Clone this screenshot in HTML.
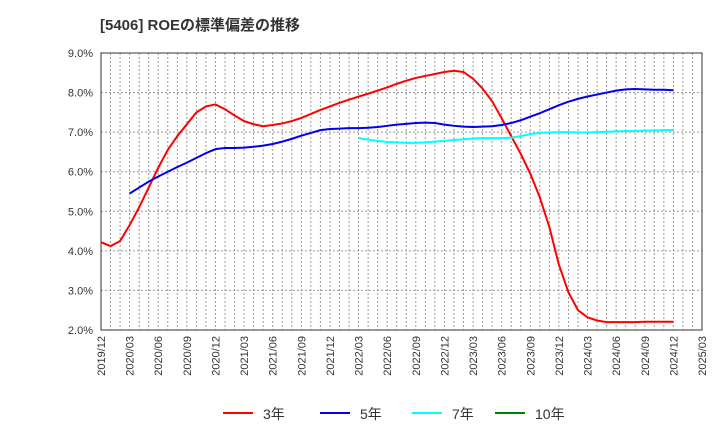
<!DOCTYPE html>
<html><head><meta charset="utf-8"><style>
body{margin:0;background:#fff;font-family:"Liberation Sans","Noto Sans CJK JP",sans-serif}
</style></head><body>
<svg width="720" height="440" xmlns="http://www.w3.org/2000/svg" font-family="Liberation Sans, Noto Sans CJK JP, sans-serif">
<text x="100" y="30" font-size="15" font-weight="bold" fill="#333">[5406]  ROEの標準偏差の推移</text>
<g id="grid"></g>
<g id="axes"></g>
<g id="series"></g>
<g id="legend"></g>
</svg>
<script>
const yTicks=[2,3,4,5,6,7,8,9];
const xTickLabels=["2019/12","2020/03","2020/06","2020/09","2020/12","2021/03","2021/06","2021/09","2021/12","2022/03","2022/06","2022/09","2022/12","2023/03","2023/06","2023/09","2023/12","2024/03","2024/06","2024/09","2024/12","2025/03"];
const s3=[4.22,4.12,4.25,4.65,5.1,5.6,6.1,6.55,6.9,7.2,7.5,7.65,7.7,7.58,7.42,7.28,7.2,7.15,7.18,7.22,7.28,7.36,7.46,7.56,7.65,7.74,7.82,7.9,7.97,8.05,8.13,8.22,8.3,8.37,8.42,8.47,8.52,8.55,8.52,8.35,8.1,7.78,7.35,6.9,6.45,5.95,5.35,4.6,3.65,2.95,2.5,2.32,2.24,2.2,2.2,2.2,2.2,2.21,2.21,2.21,2.21];
const s5Start=3;
const s5=[5.45,5.6,5.75,5.88,6.0,6.12,6.23,6.35,6.47,6.57,6.6,6.6,6.61,6.63,6.66,6.7,6.76,6.83,6.91,6.98,7.05,7.08,7.09,7.1,7.1,7.11,7.13,7.16,7.19,7.21,7.23,7.24,7.23,7.19,7.16,7.14,7.13,7.14,7.15,7.18,7.23,7.3,7.39,7.48,7.58,7.68,7.77,7.84,7.9,7.95,8.0,8.05,8.08,8.09,8.08,8.07,8.07,8.06];
const s7Start=27;
const s7=[6.85,6.81,6.78,6.75,6.74,6.73,6.73,6.74,6.76,6.78,6.8,6.82,6.84,6.85,6.85,6.85,6.86,6.9,6.95,6.98,6.99,7.0,7.0,6.99,6.99,7.0,7.01,7.02,7.03,7.03,7.04,7.04,7.05,7.05];
const s10=[];
const NS="http://www.w3.org/2000/svg";
const L=101,R=702,T=53,B=330,months=63;
const x=i=>L+(R-L)*i/months;
const y=v=>B-(B-T)*(v-2)/7;
function mk(tag,attrs,parent){const e=document.createElementNS(NS,tag);for(const k in attrs)e.setAttribute(k,attrs[k]);parent.appendChild(e);return e;}
const grid=document.getElementById('grid'),axes=document.getElementById('axes'),ser=document.getElementById('series'),leg=document.getElementById('legend');
for(let m=1;m<months;m++){const g=mk('line',{x1:x(m),x2:x(m),y1:T,y2:B,stroke:'#999','stroke-dasharray':'2,2','stroke-width':1},grid);

}
yTicks.forEach(v=>{const g=mk('line',{x1:L,x2:R,y1:y(v),y2:y(v),stroke:'#999','stroke-dasharray':'2,2','stroke-width':1},grid);


const t=mk('text',{x:93,y:y(v)+4,'text-anchor':'end','font-size':11,fill:'#333'},axes);t.textContent=v.toFixed(1)+'%';

});
xTickLabels.forEach((s,i)=>{const xx=x(i*3);const t=mk('text',{x:0,y:0,transform:`translate(${xx+4},336) rotate(-90)`,'text-anchor':'end','font-size':11,fill:'#333'},axes);t.textContent=s;

});
const fr=mk('rect',{x:L,y:T,width:R-L,height:B-T,fill:'none',stroke:'#333','stroke-width':1},axes);


function line(arr,start,color,name){if(!arr.length)return;const p=mk('polyline',{points:arr.map((v,i)=>x(start+i)+','+y(v)).join(' '),fill:'none',stroke:color,'stroke-width':2},ser);

}
line(s3,0,'#ff0000','series-3y');
line(s5,s5Start,'#0000ee','series-5y');
line(s7,s7Start,'#00ffff','series-7y');
line(s10,0,'#008000','series-10y');
[[223,'#ff0000','3年','legend-3y'],[320,'#0000ee','5年','legend-5y'],[412,'#00ffff','7年','legend-7y'],[495,'#008000','10年','legend-10y']].forEach(([lx,c,lab,n])=>{
const g=mk('g',{},leg);


mk('line',{x1:lx,x2:lx+30,y1:413,y2:413,stroke:c,'stroke-width':2},g);
const t=mk('text',{x:lx+40,y:419,'font-size':14,fill:'#333'},g);t.textContent=lab;});
</script>
</body></html>
